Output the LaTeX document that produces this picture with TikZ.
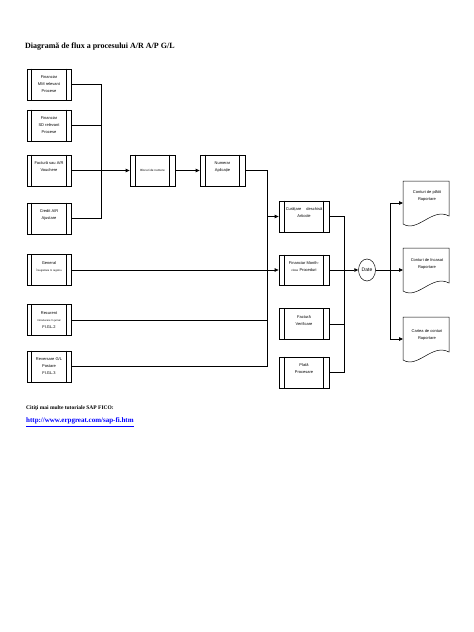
\documentclass[tikz,border=0pt]{standalone}
\usepackage{fontspec}
\setmainfont{Liberation Serif}
\setsansfont{Liberation Sans}
\usetikzlibrary{arrows.meta,shapes.geometric}
\tikzset{
  conn/.style={draw, line width=0.75pt},
  arr/.style={conn, -{Triangle[length=4pt,width=3.5pt]}},
  pbox/.style={draw, line width=0.75pt, fill=white, minimum width=#1, minimum height=31pt,
    inner sep=0pt, align=center, font=\sffamily\fontsize{4}{7}\selectfont},
  docshape/.style={draw, line width=0.5pt, fill=white},
  doctext/.style={align=center, font=\sffamily\fontsize{4}{7}\selectfont},
  dateell/.style={draw, line width=0.5pt, ellipse, fill=white, minimum width=17pt, minimum height=22pt,
    inner sep=0pt, font=\sffamily\fontsize{5}{6}\selectfont},
}
\newcommand\innerlines[2]{%
  \draw[line width=0.75pt] ([xshift=#2]#1.north west) -- ([xshift=#2]#1.south west);
  \draw[line width=0.75pt] ([xshift=-#2]#1.north east) -- ([xshift=-#2]#1.south east);}
\newcommand\upl{\\\mbox{}}
\begin{document}
\begin{tikzpicture}[x=1pt,y=-1pt]
\fill[white] (0,0) rectangle (474,632);
\useasboundingbox (0,0) rectangle (474,632);

% title
\node[anchor=west, inner sep=0pt, font=\bfseries\fontsize{8}{9}\selectfont] (title) at (25,47) {Diagramă de flux a procesului A/R A/P G/L};

% left column
\node[pbox=44pt] (b1) at (49,84.5) {Financiar\\MM relevant\\Procese};
\node[pbox=44pt] (b2) at (49,125.5) {Financiar\\SD relevant\\Procese};
\node[pbox=44pt] (b3) at (49,170.5) {Factură sau A/R\\Vouchere\upl};
\node[pbox=44pt] (b4) at (49,218.5) {Credit A/R\\Ajustare\upl};
\node[pbox=44pt] (b5) at (49,270) {General\\{\fontsize{2.6}{4}\selectfont Înregistrare în registru}\upl};
\node[pbox=44pt] (b6) at (49,320) {Recurent\\{\fontsize{2.6}{4}\selectfont Introducere în jurnal}\\FI.GL.2};
\node[pbox=44pt] (b7) at (49,366.5) {Reversare G/L\\Postare\\FI.GL.3};
\foreach \n in {b1,b2,b3,b4,b5,b6,b7} {\innerlines{\n}{5pt}}

% middle
\node[pbox=45pt] (ma) at (152.5,170.5) {{\fontsize{3}{5}\selectfont Blocuri de numere}};
\node[pbox=45pt] (mb) at (222.5,170.5) {Numerar\\Aplicație\upl};
\innerlines{ma}{6pt}
\innerlines{mb}{6pt}

% right process column
\node[pbox=50pt] (c1) at (304,216.5) {Curățare \quad deschisă\\Articole\upl};
\node[pbox=50pt, minimum height=30pt] (c2) at (304,270) {Financiar Month-\\{\fontsize{3}{5}\selectfont close} Proceduri\upl};
\node[pbox=50pt] (c3) at (304,324) {Factură\\Verificare\upl};
\node[pbox=50pt] (c4) at (304,372.5) {Plată\\Procesare\upl};
\foreach \n in {c1,c2,c3,c4} {\innerlines{\n}{6pt}}

\node[dateell] (date) at (367,270) {Date};

% documents
\draw[docshape] (403,181) -- (449,181) -- (449,216) .. controls (432,207) and (418,233) .. (403,224) -- cycle;
\draw[docshape] (403,248) -- (449,248) -- (449,283) .. controls (432,274) and (418,300) .. (403,291) -- cycle;
\draw[docshape] (403,317) -- (449,317) -- (449,352) .. controls (432,343) and (418,369) .. (403,360) -- cycle;
\node[doctext] (d1) at (427,196) {Conturi de plătit\\Raportare};
\node[doctext] (d2) at (427,263.5) {Conturi de încasat\\Raportare};
\node[doctext] (d3) at (427,334.5) {Cartea de conturi\\Raportare};
\coordinate (d1in) at (403,203);
\coordinate (d2in) at (403,270);
\coordinate (d3in) at (403,339);

% connectors left
\coordinate (j1) at (101,170.5);
\draw[conn] (b1.east) -| (j1);
\draw[conn] (b2.east) -| (j1);
\draw[conn] (b4.east) -| (j1);
\draw[arr] (b3.east) -- (ma.west);
\draw[arr] (ma.east) -- (mb.west);

% connectors to right column
\coordinate (k1) at (267,216.5);
\draw[conn] (mb.east) -| (k1);
\draw[arr] (k1) -- (c1.west);
\draw[conn] (b6.east) -| (k1);
\draw[conn] (b7.east) -| (k1);
\draw[arr] (b5.east) -- (c2.west);

% to Date
\coordinate (m1) at (344,270);
\draw[conn] (c1.east) -| (m1);
\draw[conn] (c3.east) -| (m1);
\draw[conn] (c4.east) -| (m1);
\draw[arr] (c2.east) -- (date.west);

% to documents
\coordinate (n1) at (390,270);
\draw[conn] (date.east) -- (n1);
\draw[arr] (n1) |- (d1in);
\draw[arr] (n1) -- (d2in);
\draw[arr] (n1) |- (d3in);

% footer
\node[anchor=west, inner sep=0pt, font=\bfseries\fontsize{5.5}{7}\selectfont] (more) at (26,408) {Citiţi mai multe tutoriale SAP FICO:};
\node[anchor=west, inner sep=0pt, text=blue, font=\bfseries\fontsize{7}{8}\selectfont] (link) at (26,421) {http://www.erpgreat.com/sap-fi.htm};
\draw[blue, line width=0.5pt] ([yshift=-1.5pt]link.south west) -- ([yshift=-1.5pt]link.south east);
\end{tikzpicture}
\end{document}
